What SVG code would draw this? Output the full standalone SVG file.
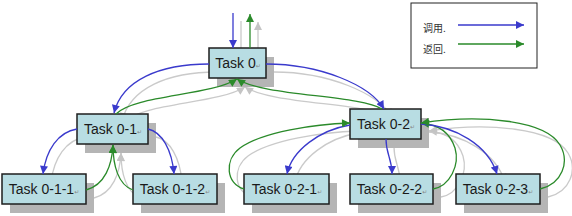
<svg xmlns="http://www.w3.org/2000/svg" width="572" height="216" viewBox="0 0 572 216">
<style>
.nd rect.box{fill:#b8dde3;stroke:#1e1e1e;stroke-width:1.5}
.nd rect.sd{fill:#b5b5b5}
.nd text{font-family:"Liberation Sans",Arial,sans-serif;font-size:14px;fill:#1a1a1a;text-anchor:middle}
.pm{font-family:"DejaVu Sans",sans-serif;font-size:6px;fill:#888}
.c{fill:none;stroke-width:1.3}
.bl{stroke:#3a3acc;marker-end:url(#mb)}
.gr{stroke:#2a8a2a;marker-end:url(#mg)}
.sh{stroke:#cacaca;marker-end:url(#ms)}
.lg{font-family:"Noto Sans CJK SC",sans-serif;font-size:10px;fill:#333}
</style>
<defs>
<marker id="mb" viewBox="0 0 10 10" refX="10" refY="5" markerWidth="9" markerHeight="8" markerUnits="userSpaceOnUse" orient="auto"><path d="M0,0 L10,5 L0,10 z" fill="#3a3acc"/></marker>
<marker id="mg" viewBox="0 0 10 10" refX="10" refY="5" markerWidth="9" markerHeight="8" markerUnits="userSpaceOnUse" orient="auto"><path d="M0,0 L10,5 L0,10 z" fill="#2a8a2a"/></marker>
<marker id="ms" viewBox="0 0 10 10" refX="10" refY="5" markerWidth="9" markerHeight="8" markerUnits="userSpaceOnUse" orient="auto"><path d="M0,0 L10,5 L0,10 z" fill="#c4c4c4"/></marker>
<path id="p1" d="M233,13 L233,48"/>
<path id="p2" d="M250,48 L250,14"/>
<path id="p3" d="M209,64 C160,64 122,80 114,113"/>
<path id="p4" d="M266,64 C320,64 370,85 384,109"/>
<path id="p5" d="M116,114 C135,95 210,96 237,79"/>
<path id="p6" d="M382,109 C360,95 262,96 237,79"/>
<path id="p7" d="M77,129 C58,132 46,150 43,174"/>
<path id="p8" d="M148,129 C162,132 172,150 174,174"/>
<path id="p9" d="M86,190 C105,185 112,165 113,145"/>
<path id="p10" d="M133,190 C118,185 113,165 113,145"/>
<path id="p11" d="M350,125 C320,130 292,150 287,174"/>
<path id="p12" d="M244,189 C226,184 224,160 240,148 C262,132 315,124 350,123"/>
<path id="p13" d="M386,139 C386,155 392,158 392,174"/>
<path id="p14" d="M433,189 C450,186 460,165 455,148 C450,133 440,125 421,123"/>
<path id="p15" d="M421,124 C455,126 488,145 497,174"/>
<path id="p16" d="M540,189 C562,184 570,162 560,145 C545,120 480,114 421,123"/>
</defs>
<rect width="572" height="216" fill="#ffffff"/>
<g id="connector-shadows" class="c sh" transform="translate(8,8)">
<use href="#p1"/><use href="#p2"/><use href="#p3"/><use href="#p4"/><use href="#p5"/><use href="#p6"/><use href="#p7"/><use href="#p8"/><use href="#p9"/><use href="#p10"/><use href="#p11"/><use href="#p12"/><use href="#p13"/><use href="#p14"/><use href="#p15"/><use href="#p16"/>
</g>
<g id="task0" class="nd"><rect class="sd" x="217" y="57" width="57" height="30"/><rect class="box" x="209" y="48" width="57" height="30"/><text x="238" y="68">Task 0<tspan class="pm">↵</tspan></text></g>
<g id="task0-1" class="nd"><rect class="sd" x="85" y="123" width="71" height="30"/><rect class="box" x="77" y="114" width="71" height="30"/><text x="113" y="134">Task 0-1<tspan class="pm">↵</tspan></text></g>
<g id="task0-2" class="nd"><rect class="sd" x="358" y="118" width="71" height="30"/><rect class="box" x="350" y="109" width="71" height="30"/><text x="386" y="129">Task 0-2<tspan class="pm">↵</tspan></text></g>
<g id="task0-1-1" class="nd"><rect class="sd" x="10" y="183" width="84" height="30"/><rect class="box" x="2" y="174" width="84" height="30"/><text x="44" y="194">Task 0-1-1<tspan class="pm">↵</tspan></text></g>
<g id="task0-1-2" class="nd"><rect class="sd" x="141" y="183" width="84" height="30"/><rect class="box" x="133" y="174" width="84" height="30"/><text x="175" y="194">Task 0-1-2<tspan class="pm">↵</tspan></text></g>
<g id="task0-2-1" class="nd"><rect class="sd" x="252" y="183" width="85" height="30"/><rect class="box" x="244" y="174" width="85" height="30"/><text x="287" y="194">Task 0-2-1<tspan class="pm">↵</tspan></text></g>
<g id="task0-2-2" class="nd"><rect class="sd" x="358" y="183" width="83" height="30"/><rect class="box" x="350" y="174" width="83" height="30"/><text x="392" y="194">Task 0-2-2<tspan class="pm">↵</tspan></text></g>
<g id="task0-2-3" class="nd"><rect class="sd" x="464" y="183" width="84" height="30"/><rect class="box" x="456" y="174" width="84" height="30"/><text x="498" y="194">Task 0-2-3<tspan class="pm">↵</tspan></text></g>
<g id="connectors" class="c">
<use class="bl" href="#p1"/><use class="gr" href="#p2"/>
<use class="bl" href="#p3"/><use class="bl" href="#p4"/>
<use class="gr" href="#p5"/><use class="gr" href="#p6"/>
<use class="bl" href="#p7"/><use class="bl" href="#p8"/>
<use class="gr" href="#p9"/><use class="gr" href="#p10"/>
<use class="bl" href="#p11"/><use class="gr" href="#p12"/>
<use class="bl" href="#p13"/><use class="gr" href="#p14"/>
<use class="bl" href="#p15"/><use class="gr" href="#p16"/>
</g>
<g id="legend">
<rect x="411" y="3" width="126" height="65" fill="#ffffff" stroke="#222" stroke-width="1"/>
<text class="lg" x="423" y="32">调用.</text>
<text class="lg" x="423" y="53">返回.</text>
<path class="c bl" d="M458,25 L524,25"/>
<path class="c gr" d="M458,44 L524,44"/>
</g>
</svg>
